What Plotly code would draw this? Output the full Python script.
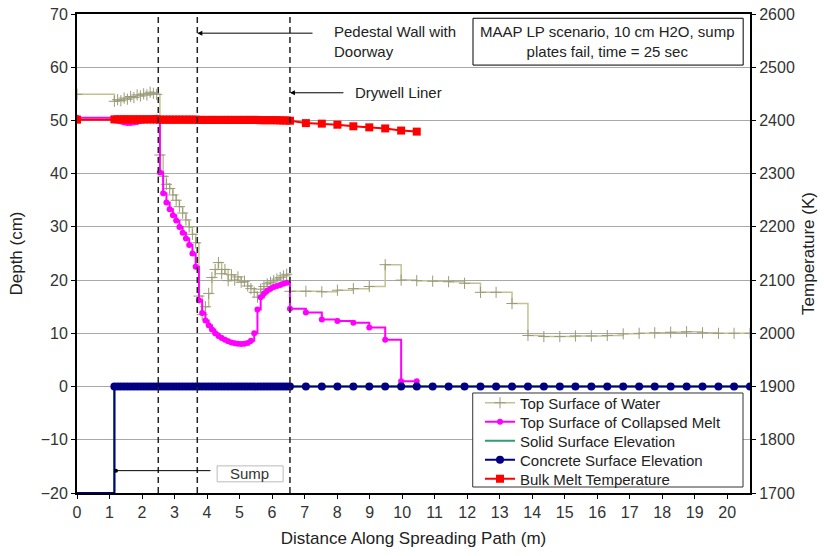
import plotly.graph_objects as go

# Node positions along the spreading path (m): sump edge, fine pedestal mesh, coarse drywell mesh
x_nodes = [
    0.0,
    1.15, 1.25, 1.35, 1.45, 1.55, 1.65, 1.75, 1.85, 1.95, 2.05, 2.15, 2.25, 2.35, 2.45,
    2.55, 2.65, 2.75, 2.85, 2.95, 3.05, 3.15, 3.25, 3.35, 3.45, 3.55, 3.65,
    3.75, 3.85, 3.95, 4.05, 4.15, 4.25, 4.35, 4.45, 4.55, 4.65, 4.75, 4.85, 4.95, 5.05,
    5.15, 5.25, 5.35, 5.45, 5.55, 5.65, 5.75, 5.85, 5.95, 6.05, 6.15, 6.25, 6.35, 6.45, 6.55,
    7.04, 7.53, 8.01, 8.50, 8.99, 9.48, 9.97, 10.45, 10.94, 11.43, 11.92, 12.41, 12.89,
    13.38, 13.87, 14.36, 14.85, 15.33, 15.82, 16.31, 16.80, 17.29, 17.77, 18.26, 18.75,
    19.24, 19.73, 20.21, 20.70,
]

# Top surface of water (cm)
water_top = [
    54.9,
    53.6, 53.9, 53.7, 54.2, 54.0, 54.5, 54.3, 54.8, 54.6, 55.0, 54.8, 55.3, 55.1, 54.9,
    43.5, 39.5, 38.0, 37.2, 36.0, 35.0, 33.8, 32.6, 31.3, 30.0, 28.6, 27.0,
    17.0, 13.5, 15.0, 17.5, 20.5, 22.0, 23.3, 21.2, 22.0, 19.9, 21.0, 20.0, 20.6, 19.6,
    19.8, 18.9, 18.4, 17.7, 16.8, 18.3, 18.8, 19.3, 19.6, 19.9, 20.2, 20.5, 20.8, 21.1, 17.9,
    17.9, 17.8, 18.1, 18.4, 18.8, 22.9, 20.0, 19.9, 19.8, 19.7, 19.4, 17.7, 17.7,
    15.6, 9.6, 9.4, 9.4, 9.5, 9.5, 9.6, 9.9, 10.0, 10.1, 10.2, 10.3,
    10.1, 10.0, 10.0, 10.0,
]

# Top surface of collapsed melt (cm), melt front ends at 10.45 m
melt_top = [
    50.5,
    50.3, 50.0, 49.8, 49.6, 49.5, 49.5, 49.6, 49.7, 49.9, 50.0, 50.2, 50.3, 50.4, 50.5,
    40.2, 36.3, 34.6, 33.3, 32.2, 31.2, 30.0, 28.9, 27.8, 26.6, 25.0, 22.5,
    16.2, 13.8, 12.4, 11.5, 10.7, 10.0, 9.5, 9.1, 8.8, 8.5, 8.3, 8.15, 8.05, 8.0,
    8.05, 8.2, 8.6, 10.0, 14.5, 16.8, 17.5, 18.0, 18.4, 18.7, 18.9, 19.1, 19.3, 19.5, 14.6,
    13.9, 12.6, 12.3, 12.0, 11.1, 8.8, 1.0, 1.0,
]

# Solid surface and concrete surface elevation (cm)
solid_surface = [
    -20.0,
    0.0, 0.0, 0.0, 0.0, 0.0, 0.0, 0.0, 0.0, 0.0, 0.0, 0.0, 0.0, 0.0, 0.0,
    0.0, 0.0, 0.0, 0.0, 0.0, 0.0, 0.0, 0.0, 0.0, 0.0, 0.0, 0.0,
    0.0, 0.0, 0.0, 0.0, 0.0, 0.0, 0.0, 0.0, 0.0, 0.0, 0.0, 0.0, 0.0, 0.0,
    0.0, 0.0, 0.0, 0.0, 0.0, 0.0, 0.0, 0.0, 0.0, 0.0, 0.0, 0.0, 0.0, 0.0, 0.0,
    0.0, 0.0, 0.0, 0.0, 0.0, 0.0, 0.0, 0.0, 0.0, 0.0, 0.0, 0.0, 0.0,
    0.0, 0.0, 0.0, 0.0, 0.0, 0.0, 0.0, 0.0, 0.0, 0.0, 0.0, 0.0,
    0.0, 0.0, 0.0, 0.0,
]
concrete_surface = [
    -20.0,
    0.0, 0.0, 0.0, 0.0, 0.0, 0.0, 0.0, 0.0, 0.0, 0.0, 0.0, 0.0, 0.0, 0.0,
    0.0, 0.0, 0.0, 0.0, 0.0, 0.0, 0.0, 0.0, 0.0, 0.0, 0.0, 0.0,
    0.0, 0.0, 0.0, 0.0, 0.0, 0.0, 0.0, 0.0, 0.0, 0.0, 0.0, 0.0, 0.0, 0.0,
    0.0, 0.0, 0.0, 0.0, 0.0, 0.0, 0.0, 0.0, 0.0, 0.0, 0.0, 0.0, 0.0, 0.0, 0.0,
    0.0, 0.0, 0.0, 0.0, 0.0, 0.0, 0.0, 0.0, 0.0, 0.0, 0.0, 0.0, 0.0,
    0.0, 0.0, 0.0, 0.0, 0.0, 0.0, 0.0, 0.0, 0.0, 0.0, 0.0, 0.0,
    0.0, 0.0, 0.0, 0.0,
]

# Bulk melt temperature (K), right axis
melt_temp = [
    2401.5,
    2402.0, 2402.0, 2402.0, 2402.0, 2402.0, 2402.0, 2402.0, 2402.0, 2402.0, 2402.0, 2402.0, 2402.0, 2402.0, 2402.0,
    2401.5, 2401.5, 2401.5, 2401.5, 2401.5, 2401.5, 2401.5, 2401.5, 2401.5, 2401.5, 2401.5, 2401.5,
    2401.0, 2401.0, 2401.0, 2401.0, 2401.0, 2401.0, 2401.0, 2401.0, 2401.0, 2401.0, 2401.0, 2401.0, 2401.0, 2401.0,
    2401.0, 2401.0, 2401.0, 2401.0, 2401.0, 2400.5, 2400.5, 2400.5, 2400.5, 2400.5, 2400.5, 2400.0, 2400.0, 2400.0, 2399.5,
    2395.0, 2394.0, 2392.0, 2389.0, 2387.0, 2385.0, 2381.0, 2379.0,
]

# Structural boundaries (m)
wall_positions = {"sump_edge": 2.5, "pedestal_wall": 3.7, "drywell_liner": 6.55}

FONT = "Arial, Liberation Sans, sans-serif"
ANN_SIZE = 15
TICK_SIZE = 16
TITLE_SIZE = 17
NAVY = "#000080"

# The node at the sump bottom is drawn without a visible marker
concrete_marker_colors = ["rgba(0,0,0,0)"] + [NAVY] * (len(concrete_surface) - 1)

traces = [
    go.Scatter(
        x=x_nodes, y=water_top, name="Top Surface of Water", mode="lines+markers",
        line=dict(color="#C2C294", width=1.5, shape="hv"),
        marker=dict(symbol="cross-thin", size=8, line=dict(color="#9A9A7C", width=1)),
    ),
    go.Scatter(
        x=x_nodes[:len(melt_top)], y=melt_top, name="Top Surface of Collapsed Melt",
        mode="lines+markers",
        line=dict(color="#FF00FF", width=2, shape="hv"),
        marker=dict(symbol="circle", size=6, color="#FF00FF"),
    ),
    go.Scatter(
        x=x_nodes, y=solid_surface, name="Solid Surface Elevation", mode="lines",
        line=dict(color="#2E9E6E", width=2, shape="hv"),
    ),
    # Concrete nodes are traced from the far end back to the sump (same steps, "vh"),
    # so the legend swatch picks up a regular navy marker
    go.Scatter(
        x=x_nodes[::-1], y=concrete_surface[::-1], name="Concrete Surface Elevation",
        mode="lines+markers",
        line=dict(color=NAVY, width=2, shape="vh"),
        marker=dict(symbol="circle", size=8, color=concrete_marker_colors[::-1]),
    ),
    go.Scatter(
        x=x_nodes[:len(melt_temp)], y=melt_temp, name="Bulk Melt Temperature",
        mode="lines+markers", yaxis="y2",
        line=dict(color="#FF0000", width=2),
        marker=dict(symbol="square", size=8, color="#FF0000"),
    ),
]

fig = go.Figure()

# Each series gets its own one-entry legend so the rows can sit at a tight pitch
legend_names = ["legend", "legend2", "legend3", "legend4", "legend5"]
legend_rows_y = [0.1879, 0.1482, 0.1086, 0.0689, 0.0292]
legend_layouts = {}
for tr, lname, ly in zip(traces, legend_names, legend_rows_y):
    tr.legend = lname
    fig.add_trace(tr)
    legend_layouts[lname] = dict(
        x=0.5988, y=ly, xanchor="left", yanchor="middle",
        bgcolor="rgba(0,0,0,0)", borderwidth=0,
        font=dict(family=FONT, size=ANN_SIZE, color="#222"),
    )

# Dashed boundary lines
shapes = []
for xv in wall_positions.values():
    shapes.append(dict(type="line", xref="x", yref="paper", x0=xv, x1=xv, y0=0, y1=1,
                       line=dict(color="#222", width=1.5, dash="6px,4px")))
# Scenario box
shapes.append(dict(type="rect", xref="x", yref="y", x0=12.18, x1=20.49, y0=60.4, y1=69.2,
                   line=dict(color="black", width=1), fillcolor="white", layer="above"))
# Sump label box
shapes.append(dict(type="rect", xref="x", yref="y", x0=4.31, x1=6.34, y0=-17.9, y1=-14.9,
                   line=dict(color="#BBBBBB", width=1)))
# Legend frame
shapes.append(dict(type="rect", xref="paper", yref="paper", x0=0.588, x1=0.9896,
                   y0=0.0125, y1=0.2088, line=dict(color="#333", width=1),
                   fillcolor="white", layer="above"))

annotations = [
    # arrows
    dict(x=wall_positions["pedestal_wall"], y=66.4, ax=7.29, ay=66.4, xref="x", yref="y",
         axref="x", ayref="y", text="", showarrow=True, arrowhead=2, arrowsize=1,
         arrowwidth=1, arrowcolor="black"),
    dict(x=wall_positions["drywell_liner"], y=55.2, ax=8.24, ay=55.2, xref="x", yref="y",
         axref="x", ayref="y", text="", showarrow=True, arrowhead=2, arrowsize=1,
         arrowwidth=1, arrowcolor="black"),
    dict(x=1.2, y=-15.8, ax=4.15, ay=-15.8, xref="x", yref="y",
         axref="x", ayref="y", text="", showarrow=True, arrowhead=6, arrowsize=1,
         arrowwidth=1, arrowcolor="black"),
    # labels
    dict(x=7.84, y=64.9, xref="x", yref="y", text="Pedestal Wall with<br>Doorway",
         showarrow=False, xanchor="left", yanchor="middle", align="left",
         font=dict(family=FONT, size=ANN_SIZE, color="#222")),
    dict(x=8.49, y=55.2, xref="x", yref="y", text="Drywell Liner",
         showarrow=False, xanchor="left", yanchor="middle",
         font=dict(family=FONT, size=ANN_SIZE, color="#222")),
    dict(x=16.33, y=64.8, xref="x", yref="y",
         text="MAAP LP scenario, 10 cm H2O, sump<br>plates fail, time = 25 sec",
         showarrow=False, xanchor="center", yanchor="middle", align="center",
         font=dict(family=FONT, size=ANN_SIZE, color="#222")),
    dict(x=5.32, y=-16.4, xref="x", yref="y", text="Sump",
         showarrow=False, xanchor="center", yanchor="middle",
         font=dict(family=FONT, size=ANN_SIZE, color="#333")),
]

axis_common = dict(showline=True, linecolor="black", linewidth=2, ticks="outside",
                   ticklen=4, tickcolor="black", zeroline=False, automargin=False,
                   tickfont=dict(family=FONT, size=TICK_SIZE, color="#333"))

fig.update_layout(
    width=824, height=556,
    margin=dict(l=77, r=74, t=14, b=63),
    paper_bgcolor="white", plot_bgcolor="white",
    font=dict(family=FONT, size=ANN_SIZE, color="#222"),
    xaxis=dict(range=[0, 20.7], tick0=0, dtick=1, showgrid=False, mirror=True,
               title=dict(text="Distance Along Spreading Path (m)", standoff=12,
                          font=dict(family=FONT, size=TITLE_SIZE, color="#222")),
               **axis_common),
    yaxis=dict(range=[-20, 70], tick0=-20, dtick=10, showgrid=True, gridcolor="#A8A8A8",
               gridwidth=1,
               title=dict(text="Depth (cm)", standoff=14,
                          font=dict(family=FONT, size=TITLE_SIZE, color="#222")),
               **axis_common),
    yaxis2=dict(range=[1700, 2600], tick0=1700, dtick=100, overlaying="y", side="right",
                showgrid=False,
                title=dict(text="Temperature (K)", standoff=8,
                           font=dict(family=FONT, size=TITLE_SIZE, color="#222")),
                **axis_common),
    shapes=shapes,
    annotations=annotations,
    showlegend=True,
    **legend_layouts,
)

fig.write_html("out.html")
